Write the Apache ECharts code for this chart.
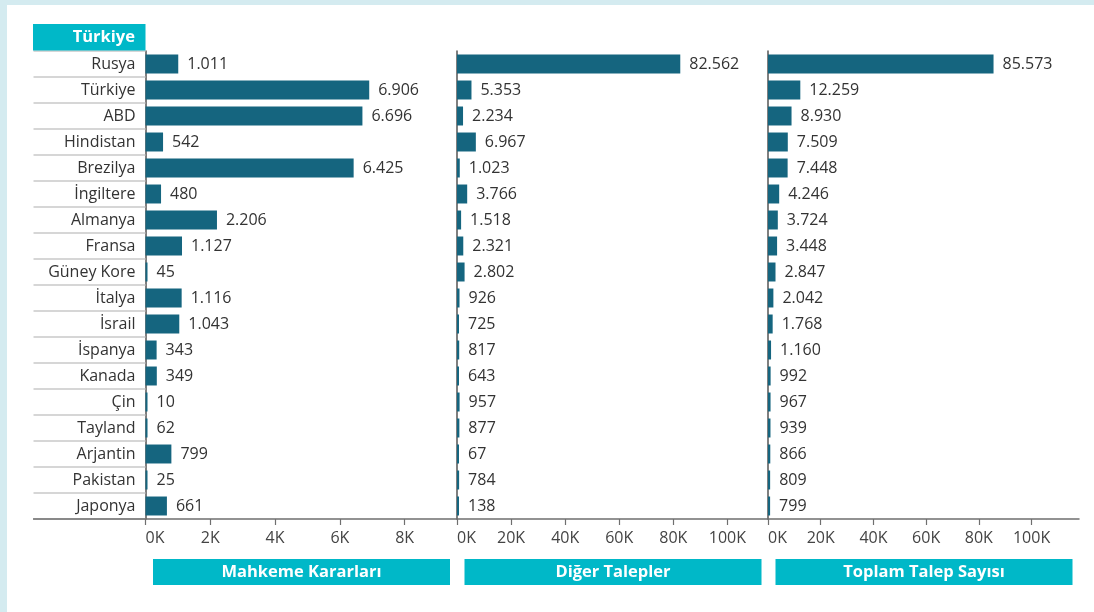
<!DOCTYPE html>
<html>
<head>
<meta charset="utf-8">
<script src="https://cdn.jsdelivr.net/npm/echarts@6/dist/echarts.min.js"></script>
<style>
  html, body { margin: 0; padding: 0; background: #d4ebf0; }
  #chart { width: 1094px; height: 612px; }
</style>
</head>
<body>
<div id="chart"></div>
<script>
// Countries (rows, top to bottom)
const countries = ['Rusya', 'Türkiye', 'ABD', 'Hindistan', 'Brezilya', 'İngiltere', 'Almanya', 'Fransa',
  'Güney Kore', 'İtalya', 'İsrail', 'İspanya', 'Kanada', 'Çin', 'Tayland', 'Arjantin', 'Pakistan', 'Japonya'];

// Court orders
const mahkemeKararlari = [1011, 6906, 6696, 542, 6425, 480, 2206, 1127, 45, 1116, 1043, 343, 349, 10, 62, 799, 25, 661];
// Other requests
const digerTalepler = [82562, 5353, 2234, 6967, 1023, 3766, 1518, 2321, 2802, 926, 725, 817, 643, 957, 877, 67, 784, 138];
// Total number of requests
const toplamTalep = [85573, 12259, 8930, 7509, 7448, 4246, 3724, 3448, 2847, 2042, 1768, 1160, 992, 967, 939, 866, 809, 799];

const panelTitles = ['Mahkeme Kararları', 'Diğer Talepler', 'Toplam Talep Sayısı'];
const headerLabel = 'Türkiye';

// Axis ticks per panel
const ticksSmall = [0, 2000, 4000, 6000, 8000];
const ticksLarge = [0, 20000, 40000, 60000, 80000, 100000];
const axisMax = [9600, 115000, 118000];

const FONT = '"Open Sans", "Noto Sans", sans-serif';
const BAR = '#15657f';
const CYAN = '#00b8c8';

// Turkish thousands separator
function fmt(v) {
  return String(v).replace(/\B(?=(\d{3})+(?!\d))/g, '.');
}

const gridLeft = [145.5, 457, 768];
const gridWidth = 311;
const gridTop = 51;
const gridBottom = 93;

const seriesData = [mahkemeKararlari, digerTalepler, toplamTalep];
const tickSets = [ticksSmall, ticksLarge, ticksLarge];

const grids = [], xAxes = [], yAxes = [], series = [];
for (let i = 0; i < 3; i++) {
  grids.push({ left: gridLeft[i], width: gridWidth, top: gridTop, bottom: gridBottom, containLabel: false });
  xAxes.push({
    type: 'value', gridIndex: i, min: 0, max: axisMax[i],
    splitLine: { show: false },
    axisLine: { show: true, lineStyle: { color: '#6f6f6f', width: 1.5 } },
    axisTick: { show: true, length: 6, customValues: tickSets[i], lineStyle: { color: '#6f6f6f', width: 1.2 } },
    axisLabel: {
      customValues: tickSets[i], alignMinLabel: 'left', margin: 11,
      color: '#444', fontSize: 16, fontFamily: FONT,
      formatter: v => (v / 1000) + 'K'
    }
  });
  yAxes.push({
    type: 'category', gridIndex: i, data: countries, inverse: true,
    axisLine: { show: true, lineStyle: { color: '#555', width: 1.5 } },
    axisTick: i === 0
      ? { show: true, length: 112, lineStyle: { color: '#c9c9c9', width: 1.5 } }
      : { show: false },
    axisLabel: i === 0
      ? { show: true, margin: 10, color: '#333', fontSize: 16, fontFamily: FONT }
      : { show: false }
  });
  series.push({
    type: 'bar', xAxisIndex: i, yAxisIndex: i, data: seriesData[i],
    barCategoryGap: '27%', barMinHeight: 2,
    itemStyle: { color: BAR },
    label: {
      show: true, position: 'right', distance: 9,
      color: '#333', fontSize: 16, fontFamily: FONT,
      formatter: p => fmt(p.value)
    },
    silent: true
  });
}

const graphics = [
  // white card on the tinted page
  { type: 'rect', shape: { x: 7, y: 5, width: 1087, height: 607 }, style: { fill: '#ffffff' }, z: -10 },
  // header cell above the country column
  { type: 'rect', shape: { x: 33, y: 24, width: 112.5, height: 26.5 }, style: { fill: CYAN }, z: 5 },
  { type: 'text', x: 135, y: 37.5, style: { text: headerLabel, fill: '#fff', font: 'bold 16.5px ' + FONT, align: 'right', verticalAlign: 'middle' }, z: 6 },
  // bottom rule under the country column
  { type: 'line', shape: { x1: 33, y1: 519, x2: 146, y2: 519 }, style: { stroke: '#6f6f6f', lineWidth: 1.5 }, z: 5 }
];
for (let i = 0; i < 3; i++) {
  const x = gridLeft[i] + 7.5;
  graphics.push({ type: 'rect', shape: { x: x, y: 559, width: 297, height: 26 }, style: { fill: CYAN }, z: 5 });
  graphics.push({ type: 'text', x: x + 148.5, y: 572.5, style: { text: panelTitles[i], fill: '#fff', font: 'bold 16.5px ' + FONT, align: 'center', verticalAlign: 'middle' }, z: 6 });
}

const chart = echarts.init(document.getElementById('chart'), null, { renderer: 'canvas' });
chart.setOption({
  backgroundColor: '#d4ebf0',
  animation: false,
  grid: grids,
  xAxis: xAxes,
  yAxis: yAxes,
  series: series,
  graphic: graphics
});
</script>
</body>
</html>
